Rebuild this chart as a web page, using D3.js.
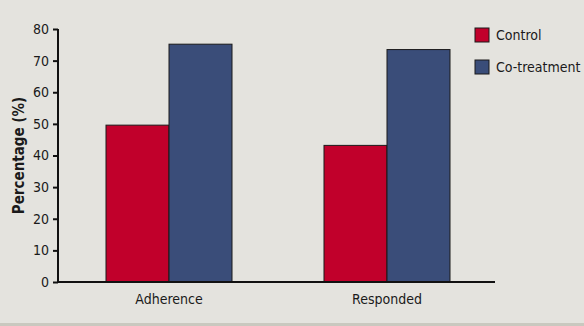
<!DOCTYPE html>
<html>
<head>
<meta charset="utf-8">
<script src="https://cdn.jsdelivr.net/npm/d3@7"></script>
<style>
  html, body { margin: 0; padding: 0; background: #e4e3de; }
  svg { display: block; }
  text { font-family: "Liberation Sans Narrow", "DejaVu Sans Condensed", "Arial Narrow", sans-serif; font-stretch: condensed; fill: #1a1a1a; }
</style>
</head>
<body>
<svg id="chart" width="584" height="326"></svg>
<script>
// Share of patients by outcome, control vs co-treatment
const categories = ["Adherence", "Responded"];
const seriesNames = ["Control", "Co-treatment"];
const controlValues = [49.6, 43.2];
const cotreatmentValues = [75.2, 73.5];
const yTicks = [0, 10, 20, 30, 40, 50, 60, 70, 80];

const colors = { "Control": "#c1002b", "Co-treatment": "#3a4d79" };

const svg = d3.select("#chart");
const W = 584, H = 326;

// page background and bottom band
svg.append("rect").attr("width", W).attr("height", H).attr("fill", "#e4e3de");
svg.append("rect").attr("x", 0).attr("y", 323).attr("width", W).attr("height", 3).attr("fill", "#c9c8bf");

const y = d3.scaleLinear().domain([0, 80]).range([282, 29]);
const x0 = d3.scaleBand().domain(categories).range([59, 497]).paddingInner(0.422).paddingOuter(0.2156);
const x1 = d3.scaleBand().domain(seriesNames).range([0, x0.bandwidth()]);

const rows = categories.map((c, i) => ({
  category: c,
  values: [
    { key: "Control", value: controlValues[i] },
    { key: "Co-treatment", value: cotreatmentValues[i] }
  ]
}));

// bars
const groups = svg.append("g").selectAll("g").data(rows).join("g")
  .attr("transform", d => `translate(${x0(d.category)},0)`);
groups.selectAll("rect").data(d => d.values).join("rect")
  .attr("x", d => x1(d.key))
  .attr("y", d => y(d.value))
  .attr("width", x1.bandwidth())
  .attr("height", d => y(0) - y(d.value))
  .attr("fill", d => colors[d.key])
  .attr("stroke", "#1b1b1b")
  .attr("stroke-width", 1);

// y axis
const yAxis = d3.axisLeft(y).tickValues(yTicks).tickSize(5).tickPadding(4).tickFormat(d3.format("d"));
const gy = svg.append("g").attr("transform", "translate(58,0)").call(yAxis);
gy.select(".domain").attr("stroke", "#111").attr("stroke-width", 2).attr("d", `M0,${y(80)}V${y(0)}`);
gy.selectAll(".tick line").attr("stroke", "#111").attr("stroke-width", 2);
gy.selectAll(".tick text").attr("font-size", 14).attr("fill", "#1a1a1a")
  .style("font-family", "'Liberation Sans Narrow', 'DejaVu Sans Condensed', sans-serif");

// x axis
const xAxis = d3.axisBottom(x0).tickSize(0).tickPadding(12);
const gx = svg.append("g").attr("transform", `translate(0,${y(0)})`).call(xAxis);
gx.select(".domain").attr("stroke", "#111").attr("stroke-width", 2).attr("d", `M57,0H495`);
gx.selectAll(".tick text").attr("font-size", 14).attr("fill", "#1a1a1a")
  .style("font-family", "'Liberation Sans Narrow', 'DejaVu Sans Condensed', sans-serif");

// y axis title
svg.append("text")
  .attr("transform", `translate(24,${(y(0) + y(80)) / 2}) rotate(-90)`)
  .attr("text-anchor", "middle")
  .attr("font-size", 15)
  .attr("font-weight", "bold")
  .text("Percentage (%)");

// legend
const legend = svg.append("g").selectAll("g").data(seriesNames).join("g")
  .attr("transform", (d, i) => `translate(475,${28 + i * 32})`);
legend.append("rect").attr("width", 14).attr("height", 14)
  .attr("fill", d => colors[d]).attr("stroke", "#1b1b1b").attr("stroke-width", 1);
legend.append("text").attr("x", 21).attr("y", 7).attr("dy", "0.36em")
  .attr("font-size", 14).text(d => d);
</script>
</body>
</html>
